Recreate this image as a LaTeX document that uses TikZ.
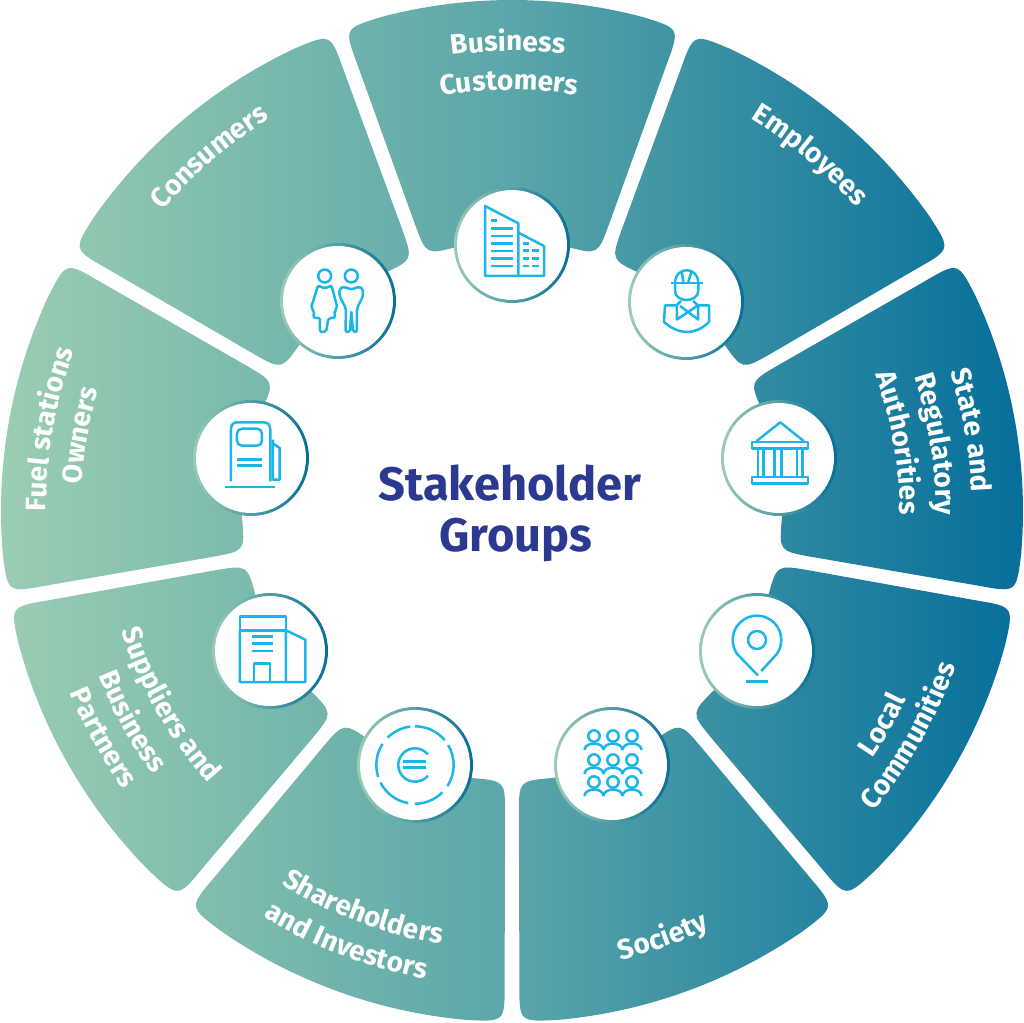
\documentclass[tikz,border=0pt]{standalone}
\usepackage{fontspec}
\setmainfont{Fira Sans}
\usetikzlibrary{decorations.text}

\definecolor{petalL}{HTML}{9BCDB2}
\definecolor{petalM}{HTML}{5AA6A9}
\definecolor{petalR}{HTML}{056E9A}
\definecolor{iconblue}{HTML}{1BB5E9}
\definecolor{titleblue}{HTML}{2B3990}

\newcommand{\labelfont}{\fontsize{28}{28}\selectfont\bfseries\color{white}}
% one ring segment around the centre angle #1
\newcommand{\petalpath}[1]{
    ({#1+14.8}:511) arc[start angle={#1+14.8},end angle={#1-14.8},radius=511]
    .. controls ({#1-19.2}:511) .. ({#1-19.1}:473) -- ({#1-18.7}:302)
    .. controls ({#1-18.5}:270) .. ({#1-11.5}:270)
    arc[start angle={#1-11.5},end angle={#1+11.5},radius=270]
    .. controls ({#1+18.5}:270) .. ({#1+18.7}:302) -- ({#1+19.1}:473)
    .. controls ({#1+19.2}:511) .. cycle
}
\newcommand{\toplabel}[3]{
    \path[decorate,decoration={text along path,text align=center,text={|\labelfont|#3}}]
        ({#2+35}:#1) arc[start angle={#2+35},end angle={#2-35},radius=#1];
}
\newcommand{\botlabel}[3]{
    \path[decorate,decoration={text along path,text align=center,text={|\labelfont|#3}}]
        ({#2-35}:#1) arc[start angle={#2-35},end angle={#2+35},radius=#1];
}

\begin{document}
\begin{tikzpicture}[x=1pt,y=1pt,
        ringnode/.style={circle,inner sep=0pt,minimum size=116pt,left color=petalL,right color=petalR},
        innernode/.style={circle,inner sep=0pt,minimum size=110pt,fill=white},
        icon/.style={draw=iconblue,line width=2.5pt,line join=round},
        titlenode/.style={font=\fontsize{47}{47}\selectfont\bfseries,text=titleblue}]
        \useasboundingbox (-512,-511) rectangle (512,511);

        \begin{scope}
            \clip \petalpath{90} \petalpath{50} \petalpath{10} \petalpath{-30} \petalpath{-70}
                  \petalpath{-110} \petalpath{-150} \petalpath{170} \petalpath{130};
            \shade[left color=petalL,right color=petalR,middle color=petalM] (-512,-511) rectangle (512,511);
        \end{scope}

        \foreach \nm/\px/\py in {biz/0/266,emp/174/209,state/267/53,local/245/-140,soc/100/-254,
                share/-97/-254,supp/-242/-140,fuel/-261/53,cons/-174/210}{
            \node[ringnode] (\nm ring) at (\px,\py) {};
            \node[innernode] (\nm) at (\px,\py) {};
        }

        \node[titlenode] (titleA) at (-2,28) {Stakeholder};
        \node[titlenode] (titleB) at (4,-29) {Groups};

        \toplabel{460}{90.5}{Business}
        \toplabel{421}{90.4}{Customers}
        \toplabel{461}{130.5}{Consumers}
        \toplabel{459}{50}{Employees}
        \toplabel{460}{10}{State and}
        \toplabel{424}{9}{Regulatory}
        \toplabel{388}{10}{Authorities}
        \toplabel{466}{170}{Fuel stations}
        \toplabel{431}{170}{Owners}
        \botlabel{437}{-30}{Local}
        \botlabel{470}{-29.5}{Communities}
        \botlabel{462}{-70.5}{Society}
        \botlabel{439}{-110.5}{Shareholders}
        \botlabel{476}{-111}{and Investors}
        \botlabel{408}{-150.5}{Suppliers and}
        \botlabel{445}{-151}{Business}
        \botlabel{478}{-151}{Partners}

        % office towers
        \begin{scope}[shift={(biz)},every path/.style={icon}]
            \draw (-27,39)--(6.3,21.7)--(6.3,-31)--(-27,-31)--cycle;
            \draw (6.3,12.3)--(32,-1)--(32,-31)--(6.3,-31);
            \draw (-21.3,24.3)--(-15.3,24.3);
            \foreach \y in {16.7,9,1.7,-6,-13.7,-21}{
                \draw (-21.3,\y)--(0.7,\y);
            }
            \draw (10.7,1.7)--(17.3,1.7);
            \foreach \y in {-5.7,-13.3,-21}{
                \draw (10.7,\y)--(17.3,\y) (19.7,\y)--(27,\y);
            }
        \end{scope}

        % woman and man
        \begin{scope}[shift={(cons)},every path/.style={icon}]
            \draw (-13.3,25) circle (6.5);
            \draw (13.3,25) circle (6.5);
            \draw[rounded corners=2pt] (-13.3,12.5)--(-20,15.5)--(-27,-7)--(-24,-9.5)--(-24.5,-17)--(-18,-17)
                --(-18,-31)--(-12,-31)--(-9.5,-17)--(-3,-17)--(-3.5,-9.5)--(-0.5,-7)--(-6.5,15.5)--cycle;
            \draw[rounded corners=2pt] (13.3,11.5)--(5,14.5)--(1.5,12)--(1.5,5)--(8,-7.5)--(7.5,-31)--(12,-31)
                --(13.3,-10)--(15,-31)--(19,-31)--(19,-7.5)--(25,5)--(25,12)--(21.5,14.5)--cycle;
        \end{scope}

        % worker with helmet
        \begin{scope}[shift={(emp)},every path/.style={icon}]
            \draw (-15.3,19)--(16.7,19);
            \draw (-11,19)..controls (-11,36) and (12.3,36)..(12.3,19);
            \draw (-4.3,31)--(-2.7,20) (5.7,31)--(2.3,20);
            \draw (-11,19)--(-11,11)..controls (-11,5) and (-5,2)..(0.7,2)..controls (6,2) and (12.3,5)..(12.3,11)--(12.3,19);
            \draw (-9.3,-3.3)--(-21,-3.3)--(-22,-20)..controls (-14,-27) and (-6,-30)..(0.7,-30)
                ..controls (8,-30) and (16,-27)..(23,-20)--(23,-3.3)--(12.3,-3.3);
            \draw (-5,1)--(-9.3,-3.3)--(-9,-17.5)--(12,-3.3)--(7,1);
            \draw (-6,-4)--(12,-17.5)--(12.3,-3.3);
        \end{scope}

        % temple
        \begin{scope}[shift={(state)},every path/.style={icon}]
            \draw (-22.7,16.7)--(1.3,35.7)--(25,16.7);
            \draw (-27,16) rectangle (29,9.3);
            \draw (-27,-19) rectangle (29,-25.7);
            \foreach \x in {-21,-15.3,-4.3,2.3,18,23.3}{
                \draw (\x,9.3)--(\x,-19);
            }
        \end{scope}

        % pin
        \begin{scope}[shift={(local)},every path/.style={icon}]
            \draw (4.3,-20)--(19.9,-2.9) arc[start angle=-35,end angle=215,radius=24.3]--(1,-24.5);
            \draw (0,11) circle (9);
            \draw (-10.7,-30.7)--(11,-30.7);
        \end{scope}

        % crowd
        \begin{scope}[shift={(soc)},every path/.style={icon}]
            \foreach \hx in {-18,1,20}{
                \foreach \hy in {29,5,-17}{
                    \draw (\hx,\hy) circle (5.7);
                    \draw (\hx-9.5,\hy-14) arc[start angle=180,end angle=0,x radius=9.5,y radius=6.5];
                }
            }
        \end{scope}

        % euro coin
        \begin{scope}[shift={(share)},every path/.style={icon}]
            \foreach \sa/\ea in {97/135,40/90,-33/31,-90/-45,-153/-100,147/198}{
                \draw (\sa:38.7) arc[start angle=\sa,end angle=\ea,radius=38.7];
            }
            \draw (40:16.7) arc[start angle=40,end angle=320,radius=16.7];
            \draw (-12.3,3.3)--(11,3.3) (-12.3,-2.7)--(11,-2.7);
        \end{scope}

        % office block
        \begin{scope}[shift={(supp)},every path/.style={icon}]
            \draw (-30,34.7) rectangle (16,20.7);
            \draw (-30,20.7)--(-30,-31)--(35.3,-31)--(35.3,11.3)--(16,20.7)--(16,-31);
            \draw (-16,-31)--(-16,-12.7)--(0,-12.7)--(0,-31);
            \foreach \y in {14.7,7.3,0}{
                \draw (-18.3,\y)--(3.3,\y);
            }
        \end{scope}

        % fuel pump
        \begin{scope}[shift={(fuel)},every path/.style={icon}]
            \draw (-20,-23.3)--(-20,28.3)..controls (-20,33) and (-18,35.7)..(-14,35.7)--(12.7,35.7)
                ..controls (17,35.7) and (19.3,33)..(19.3,28.3)--(19.3,-23.3);
            \draw[rounded corners=5pt] (-14,29.3) rectangle (11,12.3);
            \draw (-14,-1.7)--(11,-1.7) (-14,-7.3)--(11,-7.3);
            \draw (-26.3,-29)--(23.7,-29);
            \draw (22,18.3)--(22,-21.7)--(28.7,-21.7)--(28.7,10)--(23,14);
        \end{scope}
    \end{tikzpicture}
\end{document}
